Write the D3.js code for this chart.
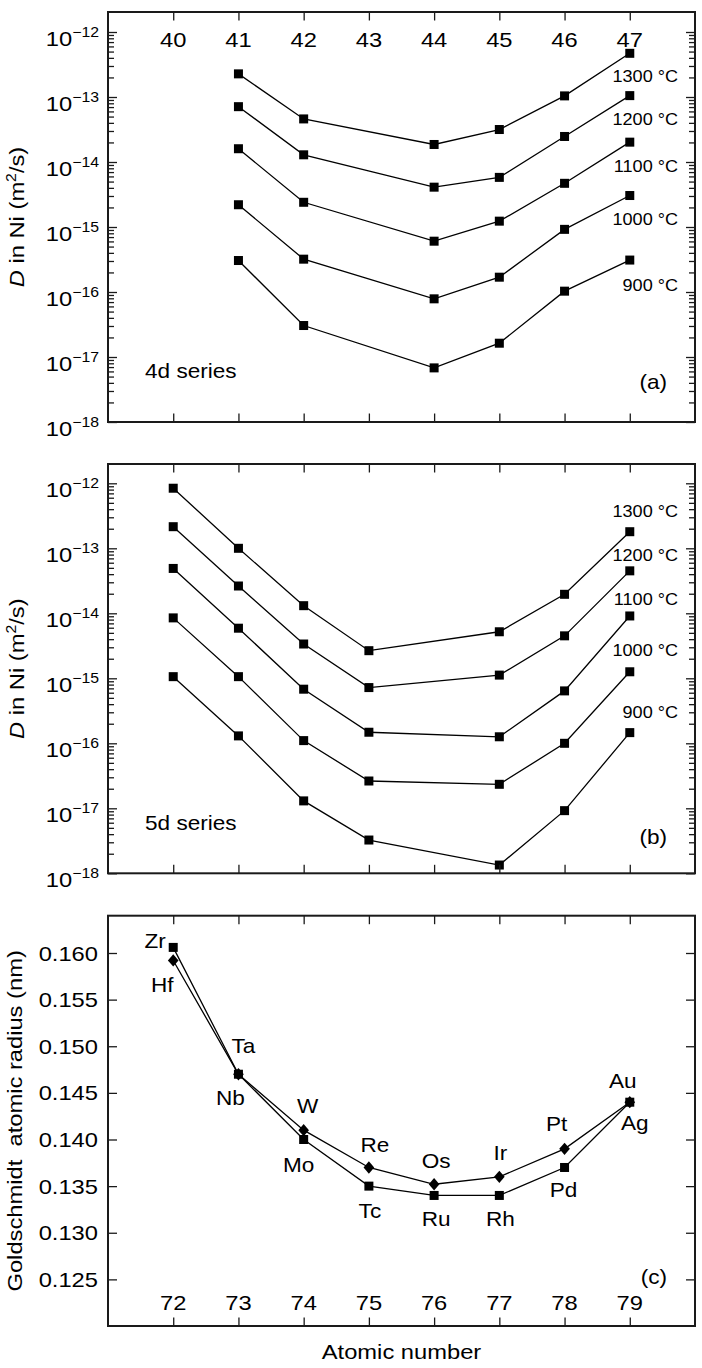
<!DOCTYPE html>
<html><head><meta charset="utf-8">
<script src="https://cdn.jsdelivr.net/npm/d3@7"></script>
<style>
body{margin:0;background:#fff}
svg{display:block}
text{font-family:"Liberation Sans",Arial,Helvetica,sans-serif;fill:#000}
</style>
</head><body>
<svg id="chart" width="702" height="1368"></svg>
<script>
// ---------------- DATA ----------------
const ticksTop4d = [40,41,42,43,44,45,46,47];
const ticks5d = [72,73,74,75,76,77,78,79];
const tempLabels = ["1300 °C","1200 °C","1100 °C","1000 °C","900 °C"];

// (a) 4d series, atomic numbers (Tc 43 missing)
const z4d = [41,42,44,45,46,47];
const D4d_1300 = [2.27e-13,4.6e-14,1.86e-14,3.16e-14,1.04e-13,4.7e-13];
const D4d_1200 = [7.1e-14,1.29e-14,4.1e-15,5.8e-15,2.47e-14,1.05e-13];
const D4d_1100 = [1.6e-14,2.4e-15,6.05e-16,1.23e-15,4.7e-15,2.02e-14];
const D4d_1000 = [2.2e-15,3.2e-16,7.85e-17,1.69e-16,9.2e-16,3.05e-15];
const D4d_900  = [3.05e-16,3.05e-17,6.8e-18,1.63e-17,1.03e-16,3.1e-16];

// (b) 5d series (Os 76 missing)
const z5d = [72,73,74,75,77,78,79];
const D5d_1300 = [8.4e-13,1.0e-13,1.31e-14,2.66e-15,5.2e-15,1.96e-14,1.8e-13];
const D5d_1200 = [2.15e-13,2.63e-14,3.37e-15,7.2e-16,1.12e-15,4.5e-15,4.5e-14];
const D5d_1100 = [4.9e-14,5.9e-15,6.8e-16,1.48e-16,1.26e-16,6.4e-16,9.1e-15];
const D5d_1000 = [8.5e-15,1.06e-15,1.1e-16,2.63e-17,2.34e-17,1.0e-16,1.26e-15];
const D5d_900  = [1.06e-15,1.3e-16,1.3e-17,3.25e-18,1.34e-18,9.2e-18,1.46e-16];

// (c) Goldschmidt atomic radius (nm)
const el4d = ["Zr","Nb","Mo","Tc","Ru","Rh","Pd","Ag"];
const r4d  = [0.1606,0.147,0.140,0.135,0.134,0.134,0.137,0.144];
const el5d = ["Hf","Ta","W","Re","Os","Ir","Pt","Au"];
const r5d  = [0.1592,0.147,0.141,0.137,0.1352,0.136,0.139,0.144];
const radiusTicks = [0.125,0.130,0.135,0.140,0.145,0.150,0.155,0.160];
const logMajors = [1e-18,1e-17,1e-16,1e-15,1e-14,1e-13,1e-12];
const logExps = ["−18","−17","−16","−15","−14","−13","−12"];

// ---------------- LAYOUT ----------------
const SX = 1.13;
const L = 108, R = 695;
const panels = {
  a:{top:12, bottom:422},
  b:{top:464, bottom:873.3},
  c:{top:915.7, bottom:1326}
};
// label offsets (px) relative to marker, for panel (c)
const off4d = [[-18,0.5],[-8,31],[-5,32],[1,32],[2,31],[1,31],[-1,30],[5,28]];
const off5d = [[-11,32],[5,-21],[4,-17],[6,-15],[2,-16],[1,-17],[-8,-18],[-7,-14]];

const svg = d3.select("#chart");
const INK = "#1a1a1a";

function txt(g,x,y,s,size,anchor,rot){
  return g.append("text")
    .attr("transform",`translate(${x},${y})${rot?" rotate(-90)":""} scale(${SX},1)`)
    .attr("font-size",size).attr("text-anchor",anchor||"start").text(s);
}
function styleAxis(sel){
  sel.select(".domain").remove();
  sel.selectAll(".tick line").attr("stroke",INK).attr("stroke-width",1.3);
  sel.selectAll(".tick text").remove();
}
function frame(p){
  svg.append("rect").attr("x",L).attr("y",p.top).attr("width",R-L).attr("height",p.bottom-p.top)
    .attr("fill","none").attr("stroke",INK).attr("stroke-width",2);
}
function xTicks(x,p,vals){
  svg.append("g").attr("transform",`translate(0,${p.top})`).call(d3.axisTop(x).tickValues(vals).tickSize(-8.5)).call(styleAxis);
  svg.append("g").attr("transform",`translate(0,${p.bottom})`).call(d3.axisBottom(x).tickValues(vals).tickSize(-8.5)).call(styleAxis);
}
function minorLog(){
  const m=[];
  for(let e=-18;e<-12;e++) for(let k=2;k<=9;k++) m.push(k*Math.pow(10,e));
  return m;
}
function logPanel(p,x,zs,series,labelBase,seriesName,letter,labelYs){
  const y = d3.scaleLog().domain([1e-18,1e-12]).range([p.bottom,p.bottom-390]);
  const g = svg.append("g");
  [["axisLeft",L],["axisRight",R]].forEach(([fn,pos])=>{
    svg.append("g").attr("transform",`translate(${pos},0)`).call(d3[fn](y).tickValues(logMajors).tickSize(-9)).call(styleAxis);
    svg.append("g").attr("transform",`translate(${pos},0)`).call(d3[fn](y).tickValues(minorLog()).tickSize(-6)).call(styleAxis);
  });
  xTicks(x,p,zs.tickVals);
  logMajors.forEach((v,i)=>{
    const t = g.append("text").attr("transform",`translate(99,${y(v)+13.5}) scale(${SX},1)`).attr("text-anchor","end");
    t.append("tspan").attr("font-size",21).text("10");
    t.append("tspan").attr("font-size",14).attr("dy",-9).text(logExps[i]);
  });
  const line = d3.line().x(d=>x(d[0])).y(d=>y(d[1]));
  series.forEach((vals,si)=>{
    const pts = zs.pts.map((z,i)=>[z,vals[i]]);
    g.append("path").attr("d",line(pts)).attr("fill","none").attr("stroke","#000").attr("stroke-width",1.3);
    g.selectAll(null).data(pts).enter().append("rect")
      .attr("x",d=>x(d[0])-4.5).attr("y",d=>y(d[1])-4.5).attr("width",9).attr("height",9).attr("fill","#000");
    txt(g,678,labelYs[si],tempLabels[si],16,"end");
  });
  txt(g,145,labelBase.series,seriesName,20,"start");
  txt(g,667,labelBase.letter,letter,20,"end");
  const yt = g.append("text").attr("transform",`translate(24,${(p.top+p.bottom)/2}) rotate(-90) scale(${SX},1)`)
    .attr("text-anchor","middle").attr("font-size",21);
  yt.append("tspan").attr("font-style","italic").text("D");
  yt.append("tspan").text(" in Ni (m");
  yt.append("tspan").attr("font-size",14).attr("dy",-8).text("2");
  yt.append("tspan").attr("dy",8).text("/s)");
  frame(p);
}

// (a)
const xa = d3.scaleLinear().domain([39,48]).range([L,R]);
logPanel(panels.a, xa, {tickVals:ticksTop4d, pts:z4d},
  [D4d_1300,D4d_1200,D4d_1100,D4d_1000,D4d_900],
  {series:378, letter:389}, "4d series", "(a)", [81.5,125,171.5,225,290.5]);
ticksTop4d.forEach(v=>txt(svg,xa(v),46.5,String(v),21,"middle"));

// (b)
const xb = d3.scaleLinear().domain([71,80]).range([L,R]);
logPanel(panels.b, xb, {tickVals:ticks5d, pts:z5d},
  [D5d_1300,D5d_1200,D5d_1100,D5d_1000,D5d_900],
  {series:830, letter:844}, "5d series", "(b)", [516.5,560.5,605,656,718]);

// (c)
(function(){
  const p = panels.c;
  const x = d3.scaleLinear().domain([71,80]).range([L,R]);
  const y = d3.scaleLinear().domain([0.120,0.164]).range([p.bottom,p.top]);
  const g = svg.append("g");
  svg.append("g").attr("transform",`translate(${L},0)`).call(d3.axisLeft(y).tickValues(radiusTicks).tickSize(-9)).call(styleAxis);
  svg.append("g").attr("transform",`translate(${R},0)`).call(d3.axisRight(y).tickValues(radiusTicks).tickSize(-9)).call(styleAxis);
  xTicks(x,p,ticks5d);
  radiusTicks.forEach(v=>txt(g,98,y(v)+7.5,v.toFixed(3),21,"end"));
  ticks5d.forEach(v=>txt(g,x(v),1309.5,String(v),21,"middle"));
  const line = d3.line().x(d=>x(d[0])).y(d=>y(d[1]));
  const p5 = ticks5d.map((z,i)=>[z,r5d[i]]);
  const p4 = ticks5d.map((z,i)=>[z,r4d[i]]);
  g.append("path").attr("d",line(p5)).attr("fill","none").attr("stroke","#000").attr("stroke-width",1.3);
  g.append("path").attr("d",line(p4)).attr("fill","none").attr("stroke","#000").attr("stroke-width",1.3);
  const sym = d3.symbol().type(d3.symbolDiamond2).size(80);
  g.selectAll(null).data(p5).enter().append("path")
    .attr("d",sym).attr("transform",d=>`translate(${x(d[0])},${y(d[1])}) scale(0.95,1.1)`).attr("fill","#000");
  g.selectAll(null).data(p4).enter().append("rect")
    .attr("x",d=>x(d[0])-4.5).attr("y",d=>y(d[1])-4.5).attr("width",9).attr("height",9).attr("fill","#000");
  p4.forEach((d,i)=>txt(g,x(d[0])+off4d[i][0],y(d[1])+off4d[i][1],el4d[i],20,"middle"));
  p5.forEach((d,i)=>txt(g,x(d[0])+off5d[i][0],y(d[1])+off5d[i][1],el5d[i],20,"middle"));
  txt(g,667,1284,"(c)",20,"end");
  txt(g,22,(p.top+p.bottom)/2,"Goldschmidt  atomic radius (nm)",21,"middle",true).style("white-space","pre");
  txt(g,(L+R)/2,1359,"Atomic number",21,"middle");
  frame(p);
})();
</script>
</body></html>
